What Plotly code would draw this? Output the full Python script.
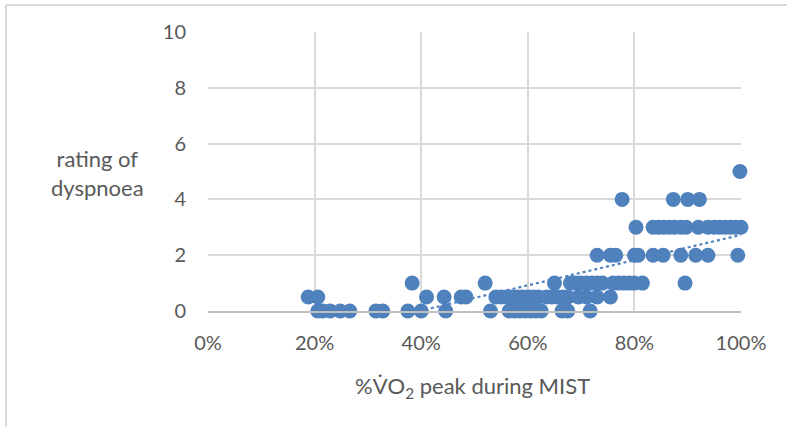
import numpy as np
import plotly.graph_objects as go

# %VO2 peak (fraction) for each dyspnoea rating level
x_r0 = [0.206, 0.215, 0.229, 0.248, 0.266, 0.315, 0.328, 0.375, 0.400, 0.446,
        0.530, 0.565, 0.575, 0.585, 0.595, 0.605, 0.615, 0.625, 0.664, 0.675, 0.717]
x_r05 = [0.188, 0.206, 0.410, 0.443, 0.475, 0.484, 0.540, 0.550, 0.560, 0.570,
         0.580, 0.590, 0.600, 0.610, 0.620, 0.635, 0.645, 0.655, 0.665, 0.675,
         0.695, 0.710, 0.730, 0.755]
x_r1 = [0.383, 0.520, 0.650, 0.680, 0.690, 0.700, 0.710, 0.720, 0.730, 0.740,
        0.760, 0.770, 0.780, 0.790, 0.800, 0.815, 0.895]
x_r2 = [0.730, 0.755, 0.765, 0.800, 0.807, 0.835, 0.854, 0.887, 0.915, 0.938, 0.994]
x_r3 = [0.803, 0.835, 0.845, 0.855, 0.865, 0.875, 0.887, 0.897, 0.920, 0.938,
        0.950, 0.960, 0.970, 0.980, 0.990, 1.000]
x_r4 = [0.777, 0.873, 0.900, 0.922]
x_r5 = [0.998]

groups = [(x_r0, 0), (x_r05, 0.5), (x_r1, 1), (x_r2, 2), (x_r3, 3), (x_r4, 4), (x_r5, 5)]
xs = np.array([v for g, r in groups for v in g])
ys = np.array([r for g, r in groups for _ in g])

x_ticks = [0, 0.2, 0.4, 0.6, 0.8, 1.0]
y_ticks = [0, 2, 4, 6, 8, 10]

blue = "rgb(79,129,189)"
grey_text = "#595959"
grid = "#d9d9d9"
font_family = "Lato, 'Open Sans', sans-serif"

fig = go.Figure()
fig.add_trace(go.Scatter(
    x=xs, y=ys, mode="markers",
    marker=dict(size=15, color=blue, line=dict(width=0)),
    showlegend=False, cliponaxis=False,
))

# linear trendline fitted to the data
slope, intercept = np.polyfit(xs, ys, 1)
tx = np.array([xs.min(), xs.max()])
fig.add_trace(go.Scatter(
    x=tx, y=slope * tx + intercept, mode="lines",
    line=dict(color=blue, width=2.2, dash="dot"),
    showlegend=False, hoverinfo="skip",
))

fig.update_xaxes(
    range=[0, 1], tickvals=x_ticks, tickformat=".0%",
    showgrid=True, gridcolor=grid, gridwidth=1.5,
    zeroline=False, showline=True, linecolor="#bfbfbf", linewidth=2,
    ticks="", ticklabelstandoff=13,
    tickfont=dict(family=font_family, size=20, color=grey_text),
)
fig.update_yaxes(
    range=[0, 10], tickvals=y_ticks,
    showgrid=True, gridcolor=grid, gridwidth=1.5,
    zeroline=False, showline=False,
    ticks="", ticklabelstandoff=21,
    tickfont=dict(family=font_family, size=20, color=grey_text),
)

L, R, T, B = 208, 46, 32, 116
W, H = 787, 427
pw, ph = W - L - R, H - T - B

def px2x(p):
    return (p - L) / pw

def px2y(p):
    return (H - B - p) / ph

fig.add_annotation(
    x=px2x(97), y=px2y(173), xref="paper", yref="paper",
    xanchor="center", yanchor="middle",
    text="rating of<br>dyspnoea", showarrow=False,
    font=dict(family=font_family, size=22, color=grey_text), align="center",
)
fig.add_annotation(
    x=px2x(472), y=px2y(387), xref="paper", yref="paper",
    xanchor="center", yanchor="middle",
    text="%V\u0307O<sub>2</sub> peak during MIST", showarrow=False,
    font=dict(family=font_family, size=22, color=grey_text),
)

# outer chart border (top and left visible)
fig.add_shape(type="line", xref="paper", yref="paper",
              x0=px2x(6), x1=px2x(787), y0=px2y(5), y1=px2y(5),
              line=dict(color=grid, width=2))
fig.add_shape(type="line", xref="paper", yref="paper",
              x0=px2x(6), x1=px2x(6), y0=px2y(5), y1=px2y(427),
              line=dict(color=grid, width=2))

fig.update_layout(
    width=W, height=H,
    margin=dict(l=L, r=R, t=T, b=B),
    paper_bgcolor="white", plot_bgcolor="white",
)

fig.write_html("out.html")
